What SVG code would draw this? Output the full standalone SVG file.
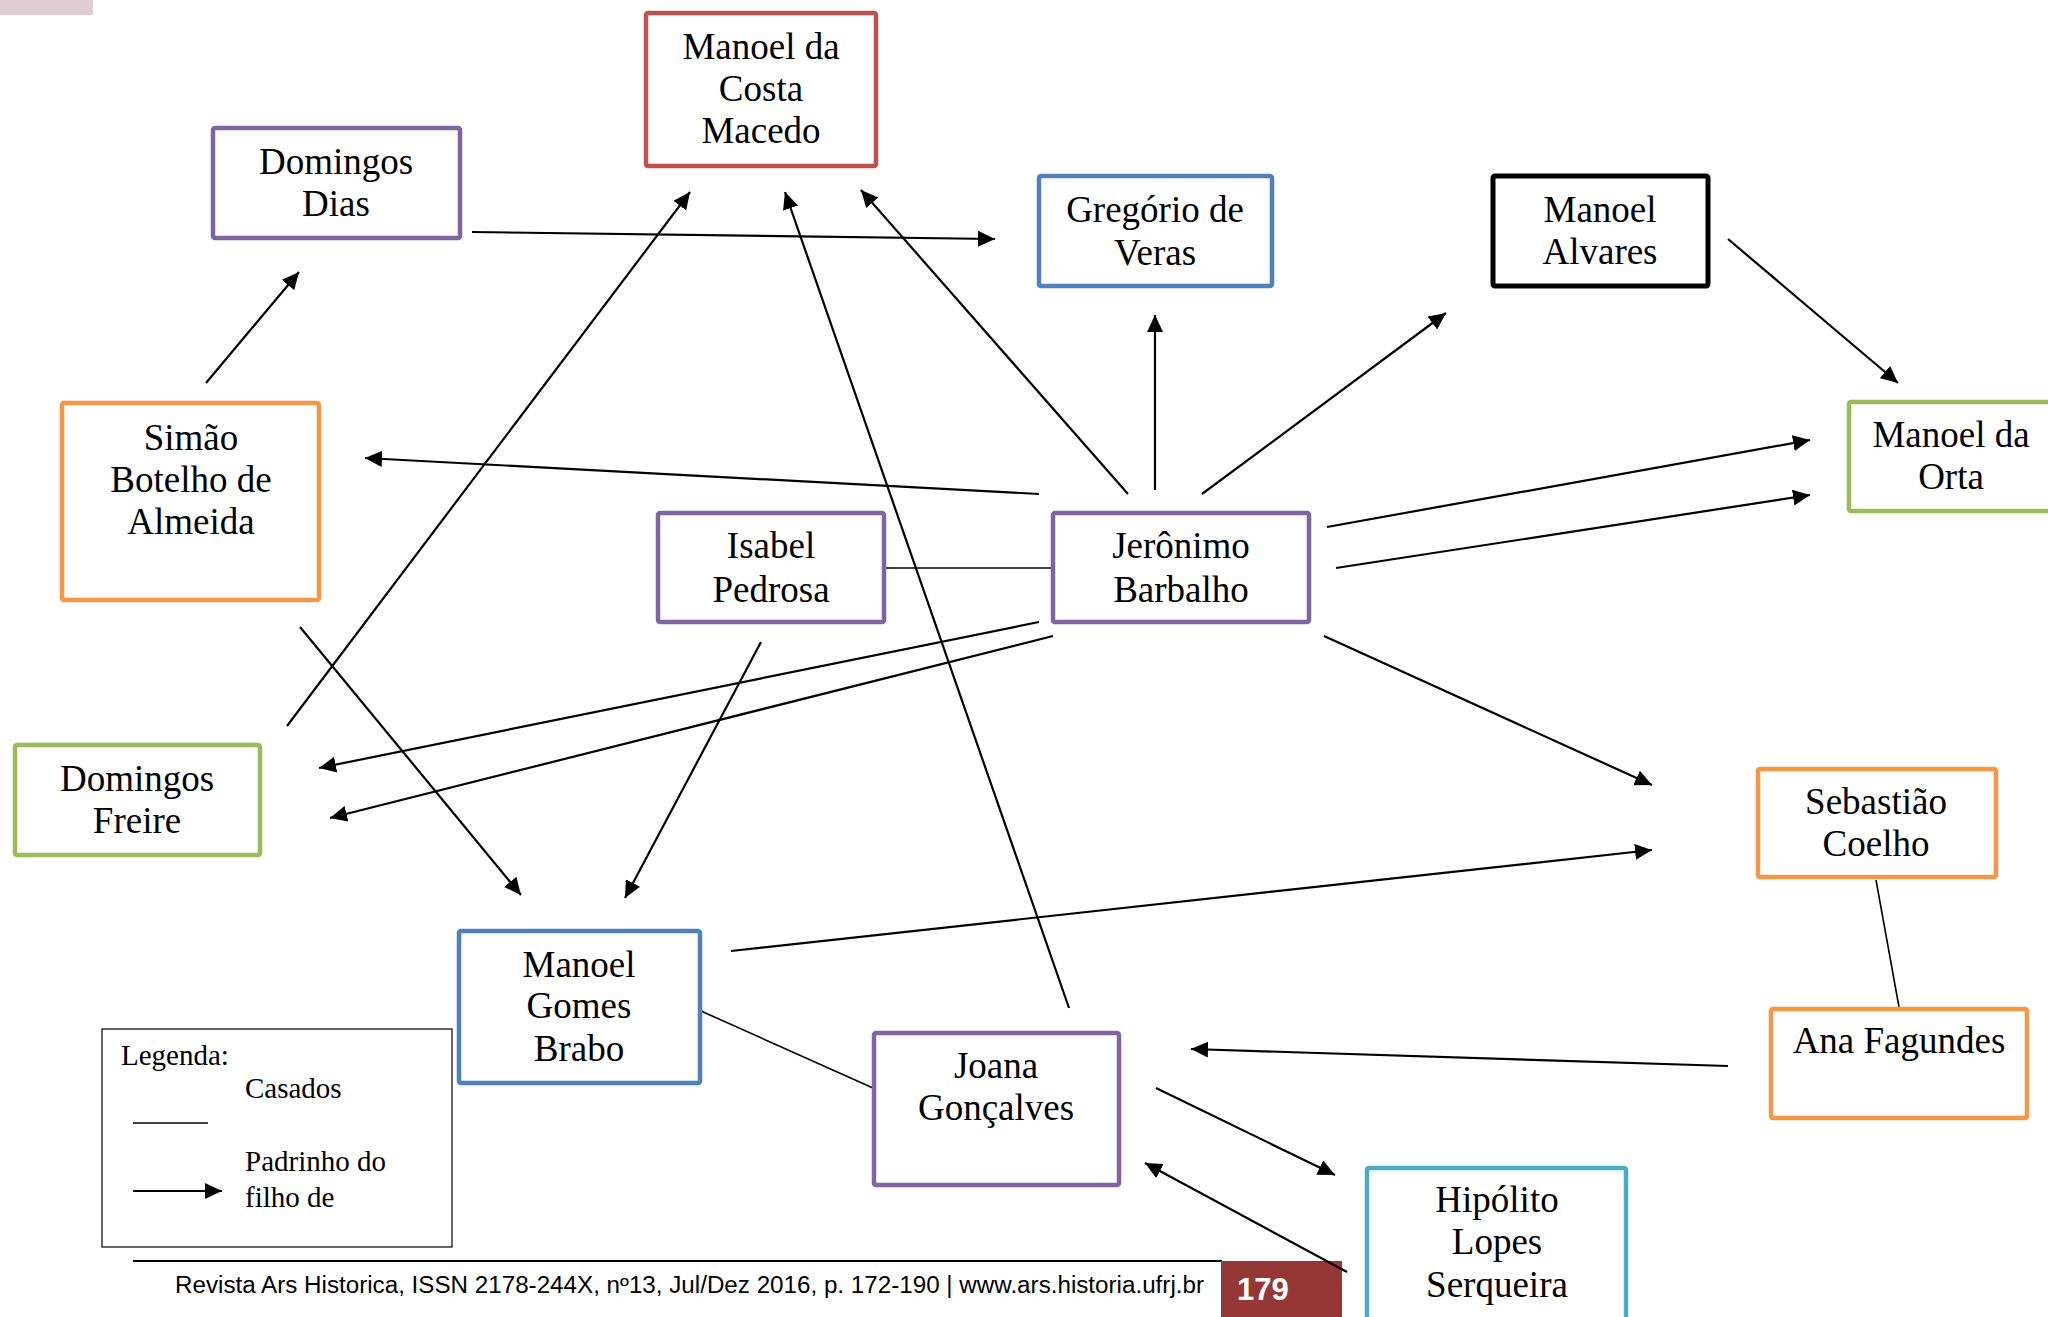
<svg xmlns="http://www.w3.org/2000/svg" width="2048" height="1317" viewBox="0 0 2048 1317">
<defs>
<style>
.box{fill:#fff;stroke-width:4.5}
.purple{stroke:#8064a2}.red{stroke:#c0504d}.blue{stroke:#4f81bd}.green{stroke:#9bbb59}.orange{stroke:#f79646}.cyan{stroke:#4bacc6}.black{stroke:#000;stroke-width:5}
.nt{font-family:"Liberation Serif","Times New Roman",serif;font-size:37px;fill:#000;text-anchor:middle}
.lt{font-family:"Liberation Serif","Times New Roman",serif;font-size:29px;fill:#000}
.arr{stroke:#000;stroke-width:2.2;fill:none;marker-end:url(#ah)}
.mar{stroke:#000;stroke-width:1.6;fill:none}
.ft{font-family:"Liberation Sans",Arial,sans-serif;font-size:23px;fill:#000}
</style>
<marker id="ah" markerUnits="userSpaceOnUse" markerWidth="18" markerHeight="17" refX="17" refY="8" orient="auto">
<path d="M0,0 L17,8 L0,16 z" fill="#000"/>
</marker>
</defs>
<rect width="2048" height="1317" fill="#fff"/>
<rect x="0" y="0" width="93" height="15" fill="#dfcdd2"/>

<g id="footer">
<line x1="133" y1="1261" x2="1222" y2="1261" stroke="#000" stroke-width="2"/>
<text class="ft" x="175" y="1293" textLength="1029" lengthAdjust="spacingAndGlyphs">Revista Ars Historica, ISSN 2178-244X, nº13, Jul/Dez 2016, p. 172-190 |  www.ars.historia.ufrj.br</text>
<rect x="1221" y="1261" width="121" height="56" fill="#953735"/>
<text x="1237" y="1300" font-family="'Liberation Sans',Arial,sans-serif" font-weight="bold" font-size="31" fill="#fff">179</text>
</g>

<g id="connectors">
<line class="arr" x1="472" y1="232" x2="995" y2="239"/>
<line class="arr" x1="206" y1="383" x2="299" y2="272"/>
<line class="arr" x1="287" y1="726" x2="690" y2="192"/>
<line class="arr" x1="1069" y1="1008" x2="785" y2="192"/>
<line class="arr" x1="1128" y1="494" x2="861" y2="190"/>
<line class="arr" x1="1155" y1="490" x2="1155" y2="315"/>
<line class="arr" x1="1202" y1="494" x2="1446" y2="313"/>
<line class="arr" x1="1728" y1="239" x2="1898" y2="383"/>
<line class="arr" x1="1327" y1="527" x2="1810" y2="440"/>
<line class="arr" x1="1336" y1="568" x2="1810" y2="495"/>
<line class="arr" x1="1039" y1="494" x2="365" y2="458"/>
<line class="mar" x1="885" y1="568" x2="1052" y2="568"/>
<line class="arr" x1="1039" y1="622" x2="319" y2="768"/>
<line class="arr" x1="1053" y1="636" x2="330" y2="818"/>
<line class="arr" x1="300" y1="627" x2="521" y2="895"/>
<line class="arr" x1="761" y1="642" x2="625" y2="898"/>
<line class="arr" x1="1324" y1="636" x2="1652" y2="785"/>
<line class="arr" x1="731" y1="951" x2="1652" y2="850"/>
<line class="mar" x1="701" y1="1011" x2="873" y2="1088"/>
<line class="mar" x1="1876" y1="880" x2="1899" y2="1007"/>
<line class="arr" x1="1728" y1="1066" x2="1191" y2="1049"/>
<line class="arr" x1="1156" y1="1088" x2="1335" y2="1175"/>
<line class="arr" x1="1347" y1="1272" x2="1145" y2="1163"/>
</g>

<g id="n-macedo"><rect class="box red" x="646" y="13" width="230" height="153" rx="2"/>
<text class="nt" x="761" y="59">Manoel da</text><text class="nt" x="761" y="101">Costa</text><text class="nt" x="761" y="143">Macedo</text></g>
<g id="n-dias"><rect class="box purple" x="213" y="128" width="247" height="110" rx="2"/>
<text class="nt" x="336" y="174">Domingos</text><text class="nt" x="336" y="216">Dias</text></g>
<g id="n-gregorio"><rect class="box blue" x="1039" y="176" width="233" height="110" rx="2"/>
<text class="nt" x="1155" y="222">Gregório de</text><text class="nt" x="1155" y="265">Veras</text></g>
<g id="n-alvares"><rect class="box black" x="1493" y="176" width="215" height="110" rx="2"/>
<text class="nt" x="1600" y="222">Manoel</text><text class="nt" x="1600" y="264">Alvares</text></g>
<g id="n-orta"><rect class="box green" x="1849" y="402" width="210" height="109" rx="2"/>
<text class="nt" x="1951" y="447">Manoel da</text><text class="nt" x="1951" y="489">Orta</text></g>
<g id="n-simao"><rect class="box orange" x="62" y="403" width="257" height="197" rx="2"/>
<text class="nt" x="191" y="450">Simão</text><text class="nt" x="191" y="492">Botelho de</text><text class="nt" x="191" y="534">Almeida</text></g>
<g id="n-isabel"><rect class="box purple" x="658" y="513" width="226" height="109" rx="2"/>
<text class="nt" x="771" y="558">Isabel</text><text class="nt" x="771" y="602">Pedrosa</text></g>
<g id="n-jeronimo"><rect class="box purple" x="1053" y="513" width="256" height="109" rx="2"/>
<text class="nt" x="1181" y="558">Jerônimo</text><text class="nt" x="1181" y="602">Barbalho</text></g>
<g id="n-freire"><rect class="box green" x="15" y="745" width="245" height="110" rx="2"/>
<text class="nt" x="137" y="791">Domingos</text><text class="nt" x="137" y="833">Freire</text></g>
<g id="n-sebastiao"><rect class="box orange" x="1758" y="769" width="238" height="108" rx="2"/>
<text class="nt" x="1876" y="814">Sebastião</text><text class="nt" x="1876" y="856">Coelho</text></g>
<g id="n-brabo"><rect class="box blue" x="459" y="931" width="241" height="152" rx="2"/>
<text class="nt" x="579" y="977">Manoel</text><text class="nt" x="579" y="1018">Gomes</text><text class="nt" x="579" y="1061">Brabo</text></g>
<g id="n-joana"><rect class="box purple" x="874" y="1033" width="245" height="152" rx="2"/>
<text class="nt" x="996" y="1078">Joana</text><text class="nt" x="996" y="1120">Gonçalves</text></g>
<g id="n-ana"><rect class="box orange" x="1771" y="1009" width="256" height="109" rx="2"/>
<text class="nt" x="1899" y="1053">Ana Fagundes</text></g>
<g id="n-hipolito"><rect class="box cyan" x="1367" y="1168" width="259" height="160" rx="2"/>
<text class="nt" x="1497" y="1212">Hipólito</text><text class="nt" x="1497" y="1254">Lopes</text><text class="nt" x="1497" y="1297">Serqueira</text></g>

<g id="legend">
<rect x="102" y="1029" width="350" height="218" fill="#fff" stroke="#000" stroke-width="1.2"/>
<text class="lt" x="121" y="1065">Legenda:</text>
<text class="lt" x="245" y="1098">Casados</text>
<line x1="133" y1="1123" x2="208" y2="1123" stroke="#000" stroke-width="1.6"/>
<text class="lt" x="245" y="1171">Padrinho do</text>
<text class="lt" x="245" y="1207">filho de</text>
<line x1="133" y1="1191" x2="222" y2="1191" class="arr"/>
</g>
</svg>
